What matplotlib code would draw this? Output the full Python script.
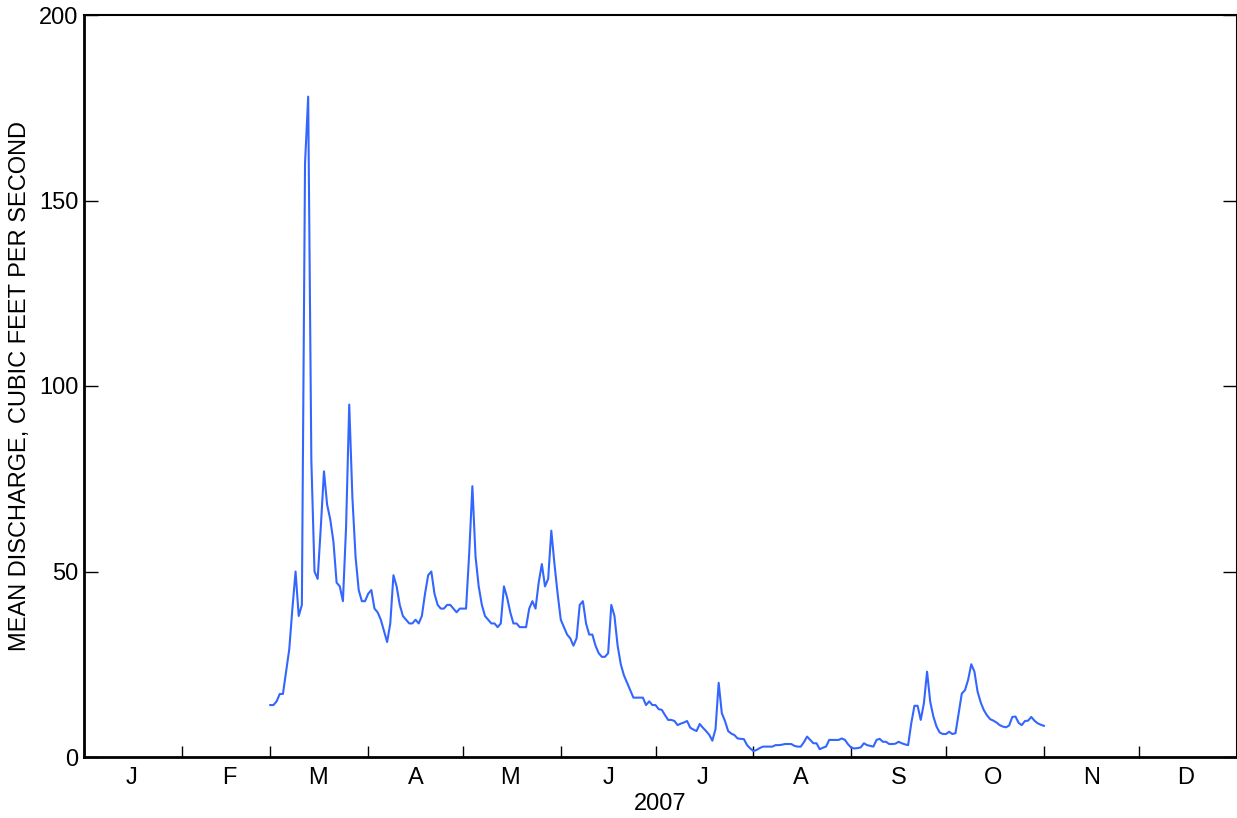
import numpy as np
import pandas as pd
import matplotlib
matplotlib.use("Agg")
import matplotlib.pyplot as plt
import matplotlib.dates as mdates
from matplotlib.ticker import FixedLocator, FixedFormatter, NullFormatter

plt.rcParams['font.family'] = ['Liberation Sans', 'DejaVu Sans']

# Daily mean discharge (ft3/s), 1 March 2007 through 1 November 2007
march = [14, 14, 15, 17, 17, 23, 29, 40, 50, 38, 41, 160, 178, 80, 50, 48,
         62, 77, 68, 64, 58, 47, 46, 42, 62, 95, 70, 54, 45, 42, 42]
april = [44, 45, 40, 39, 37, 34, 31, 36, 49, 46, 41, 38, 37, 36, 36, 37,
         36, 38, 44, 49, 50, 44, 41, 40, 40, 41, 41, 40, 39, 40]
may = [40, 40, 55, 73, 54, 46, 41, 38, 37, 36, 36, 35, 36, 46, 43, 39,
       36, 36, 35, 35, 35, 40, 42, 40, 47, 52, 46, 48, 61, 52, 44]
june = [37, 35, 33, 32, 30, 32, 41, 42, 36, 33, 33, 30, 28, 27, 27, 28,
        41, 38, 30, 25, 22, 20, 18, 16, 16, 16, 16, 14, 15, 14]
july = [14, 12.9, 12.7, 11.3, 10, 10, 9.7, 8.6, 9, 9.3, 9.7, 7.9, 7.4, 7,
        8.9, 7.9, 7, 6, 4.4, 7.5, 20, 11.8, 9.7, 7, 6.3, 5.9, 5, 4.9, 4.8,
        3.2, 2.3]
august = [1.6, 1.9, 2.4, 2.8, 2.8, 2.8, 2.8, 3.2, 3.2, 3.3, 3.5, 3.5, 3.5,
          3.0, 2.8, 2.8, 4.0, 5.5, 4.6, 3.7, 3.7, 2.1, 2.5, 2.8, 4.6, 4.6,
          4.6, 4.6, 5.0, 4.6, 3.4]
september = [2.5, 2.3, 2.4, 2.6, 3.7, 3.2, 3.0, 2.8, 4.6, 4.9, 4.1, 4.1, 3.5,
             3.5, 3.6, 4.1, 3.7, 3.4, 3.2, 9.1, 13.8, 13.8, 10, 14.5, 23,
             14.9, 10.9, 8.2, 6.6, 6.2]
october = [6.2, 6.8, 6.2, 6.4, 11.8, 17.1, 18, 20.8, 25, 23, 17.6, 14.7,
           12.6, 11.2, 10.2, 9.8, 9.3, 8.6, 8.2, 8.0, 8.5, 10.8, 10.9, 9.2,
           8.6, 9.7, 9.8, 10.8, 9.8, 9.1, 8.7]
november = [8.4]

discharge = march + april + may + june + july + august + september + october + november
dates = pd.date_range("2007-03-01", periods=len(discharge), freq="D")

month_letters = ["J", "F", "M", "A", "M", "J", "J", "A", "S", "O", "N", "D"]
y_ticks = [0, 50, 100, 150, 200]

W, H = 1237, 818
fig = plt.figure(figsize=(W / 100, H / 100), dpi=100)
ax = fig.add_axes([84 / W, 1 - 757 / H, (1236.5 - 84) / W, (757 - 15) / H])

ax.plot(dates, discharge, color="#3366ff", linewidth=1.5)

ax.set_xlim(pd.Timestamp("2007-01-01"), pd.Timestamp("2008-01-01"))
ax.set_ylim(0, 200)

month_starts = pd.date_range("2007-01-01", "2008-01-01", freq="MS")
mid_months = [d + pd.Timedelta(days=15) for d in month_starts[:-1]]
ax.xaxis.set_major_locator(FixedLocator(mdates.date2num(month_starts)))
ax.xaxis.set_major_formatter(NullFormatter())
ax.xaxis.set_minor_locator(FixedLocator(mdates.date2num(mid_months)))
ax.xaxis.set_minor_formatter(FixedFormatter(month_letters))
ax.tick_params(axis="x", which="major", direction="in", length=8, width=1,
               top=False, bottom=True)
ax.tick_params(axis="x", which="minor", length=0, labelsize=17, pad=7)

ax.set_yticks(y_ticks)
ax.tick_params(axis="y", direction="in", length=10, width=1, left=True,
               right=True, labelsize=17, pad=4)

for side in ["left", "bottom"]:
    ax.spines[side].set_linewidth(2)
for side in ["top", "right"]:
    ax.spines[side].set_linewidth(1.5)

ax.set_xlabel("2007", fontsize=17, labelpad=3)
ax.set_ylabel("MEAN DISCHARGE, CUBIC FEET PER SECOND", fontsize=17, labelpad=6)

fig.savefig("out.png", dpi=100)
